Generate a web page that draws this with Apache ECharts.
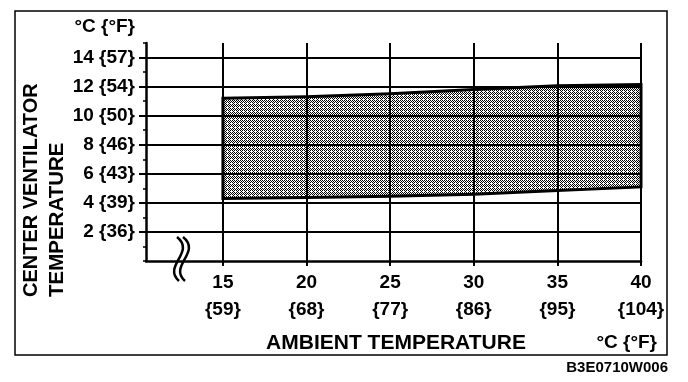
<!DOCTYPE html>
<html>
<head>
<meta charset="utf-8">
<script src="https://cdn.jsdelivr.net/npm/echarts@6/dist/echarts.min.js"></script>
<style>
html,body{margin:0;padding:0;background:#fff;}
#chart{width:688px;height:382px;}
</style>
</head>
<body>
<div id="chart"></div>
<script>
// ---- data ----
const ambientC = [15, 20, 25, 30, 35, 40];
const ambientF = [59, 68, 77, 86, 95, 104];
const ventLowC  = [4.3, 4.37, 4.45, 4.6, 4.85, 5.1];
const ventHighC = [11.2, 11.3, 11.5, 11.8, 12.05, 12.15];
const yTickC = [2, 4, 6, 8, 10, 12, 14];
const yTickF = [36, 39, 43, 46, 50, 54, 57];

const FONT = 'Liberation Sans';

// halftone-like fill pattern
const pc = document.createElement('canvas');
pc.width = 4; pc.height = 4;
const g = pc.getContext('2d');
g.fillStyle = '#fff'; g.fillRect(0, 0, 4, 4);
g.fillStyle = '#000';
[[0,0],[2,0],[1,1],[3,1],[0,2],[2,2],[1,3]].forEach(p => g.fillRect(p[0], p[1], 1, 1));

const chart = echarts.init(document.getElementById('chart'), null, {renderer: 'canvas'});

const option = {
  backgroundColor: '#fff',
  animation: false,
  grid: {left: 146, right: 47, top: 43, bottom: 121},
  xAxis: {
    type: 'value', min: 10.4, max: 40, z: 10,
    axisLine: {show: true, onZero: false, lineStyle: {color: '#000', width: 2.5}},
    axisTick: {show: true, length: 5, customValues: ambientC, lineStyle: {color: '#000', width: 2}},
    axisLabel: {
      customValues: ambientC, margin: 8, color: '#000', fontFamily: FONT, fontSize: 19, fontWeight: 'bold', lineHeight: 27,
      formatter: v => v + '\n{' + ambientF[ambientC.indexOf(v)] + '}'
    },
    splitLine: {show: true, lineStyle: {color: '#000', width: 2}}
  },
  yAxis: [{
    type: 'value', min: 0, max: 15, z: 10,
    axisLine: {show: true, onZero: false, lineStyle: {color: '#000', width: 2.5}},
    axisTick: {show: true, length: 7, customValues: yTickC, lineStyle: {color: '#000', width: 2}},
    axisLabel: {
      customValues: yTickC, margin: 11, color: '#000', fontFamily: FONT, fontSize: 19, fontWeight: 'bold',
      formatter: v => v + ' {' + yTickF[yTickC.indexOf(v)] + '}'
    },
    splitLine: {show: true, lineStyle: {color: '#000', width: 2}}
  }, {
    type: 'value', min: 0, max: 15, interval: 1, position: 'left', z: 10,
    axisLine: {show: false},
    axisTick: {show: true, length: 3, lineStyle: {color: '#000', width: 1.5}},
    axisLabel: {show: false},
    splitLine: {show: false}
  }],
  series: [{
    type: 'custom',
    z: 1,
    coordinateSystem: 'cartesian2d',
    data: [[0]],
    renderItem: function (params, api) {
      const pts = [];
      for (let i = 0; i < ambientC.length; i++) pts.push(api.coord([ambientC[i], ventHighC[i]]));
      for (let i = ambientC.length - 1; i >= 0; i--) pts.push(api.coord([ambientC[i], ventLowC[i]]));
      return {
        type: 'polygon',
        shape: {points: pts},
        style: {fill: {image: pc, repeat: 'repeat'}, stroke: '#000', lineWidth: 3}
      };
    }
  }],
  graphic: [
    {type: 'rect', shape: {x: 15, y: 11, width: 652, height: 344},
     style: {fill: null, stroke: '#000', lineWidth: 1.5}},
    {type: 'text', x: 135, y: 27,
     style: {text: '°C {°F}', fontFamily: FONT, fontSize: 19, fontWeight: 'bold', fill: '#000', align: 'right', verticalAlign: 'middle'}},
    {type: 'text', x: 31, y: 297, rotation: Math.PI / 2,
     style: {text: 'CENTER VENTILATOR', fontFamily: FONT, fontSize: 20, fontWeight: 'bold', fill: '#000', align: 'left', verticalAlign: 'middle'}},
    {type: 'text', x: 57, y: 297, rotation: Math.PI / 2,
     style: {text: 'TEMPERATURE', fontFamily: FONT, fontSize: 20.5, fontWeight: 'bold', fill: '#000', align: 'left', verticalAlign: 'middle'}},
    {type: 'text', x: 396, y: 343,
     style: {text: 'AMBIENT TEMPERATURE', fontFamily: FONT, fontSize: 21, fontWeight: 'bold', fill: '#000', align: 'center', verticalAlign: 'middle'}},
    {type: 'text', x: 657, y: 343,
     style: {text: '°C {°F}', fontFamily: FONT, fontSize: 19, fontWeight: 'bold', fill: '#000', align: 'right', verticalAlign: 'middle'}},
    {type: 'text', x: 668, y: 368,
     style: {text: 'B3E0710W006', fontFamily: FONT, fontSize: 15, fontWeight: 'bold', fill: '#000', align: 'right', verticalAlign: 'middle'}},
    {type: 'bezierCurve', shape: {x1: 177, y1: 237, cpx1: 196, cpy1: 252, cpx2: 162, cpy2: 266, x2: 179, y2: 281},
     style: {stroke: '#000', lineWidth: 2.5, fill: null}},
    {type: 'bezierCurve', shape: {x1: 183, y1: 237, cpx1: 202, cpy1: 252, cpx2: 168, cpy2: 266, x2: 185, y2: 281},
     style: {stroke: '#000', lineWidth: 2.5, fill: null}}
  ]
};
chart.setOption(option);
</script>
</body>
</html>
